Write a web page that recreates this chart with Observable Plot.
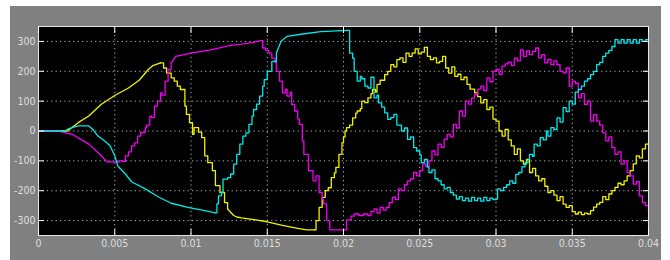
<!DOCTYPE html>
<html>
<head>
<meta charset="utf-8">
<script src="https://cdn.jsdelivr.net/npm/d3@7"></script>
<script src="https://cdn.jsdelivr.net/npm/@observablehq/plot@0.6"></script>
<style>
  html, body { margin: 0; padding: 0; background: #ffffff; }
  #wrap { position: relative; width: 670px; height: 260px; overflow: hidden; }
  #panel { position: absolute; left: 10px; top: 6px; width: 651px; height: 254px; background: #808080; }
  #chart { position: absolute; left: 0; top: 0; }
  #chart svg { display: block; }
</style>
</head>
<body>
<div id="wrap"><div id="panel"></div><div id="chart"></div></div>
<script>
const xTicks = [0, 0.005, 0.01, 0.015, 0.02, 0.025, 0.03, 0.035, 0.04];
const xTickLabels = ["0", "0.005", "0.01", "0.015", "0.02", "0.025", "0.03", "0.035", "0.04"];
const yTicks = [-300, -200, -100, 0, 100, 200, 300];
const yTickLabels = ["-300", "-200", "-100", "0", "100", "200", "300"];

const yellowT = [0,0.0019,0.0026,0.0033,0.0041,0.0050,0.0059,0.0066,0.0072,0.0075,0.0080,0.0082,0.0084,0.0087,0.0089,0.0091,0.0093,0.0096,0.0097,0.0099,0.0101,0.0102,0.0105,0.0107,0.0109,0.0111,0.0114,0.0116,0.0119,0.0122,0.0124,0.0126,0.0128,0.0130,0.0133,0.0140,0.0150,0.0160,0.0170,0.0176,0.0181,0.0182,0.0184,0.0186,0.0188,0.0190,0.0192,0.0194,0.0195,0.0197,0.0199,0.0200,0.0201,0.0202,0.0204,0.0206,0.0208,0.0209,0.0211,0.0212,0.0214,0.0216,0.0218,0.0219,0.0221,0.0222,0.0224,0.0227,0.0229,0.0231,0.0233,0.0235,0.0237,0.0239,0.0241,0.0243,0.0245,0.0247,0.0249,0.0251,0.0253,0.0255,0.0257,0.0259,0.0261,0.0263,0.0265,0.0267,0.0269,0.0271,0.0273,0.0275,0.0277,0.0279,0.0281,0.0283,0.0286,0.0288,0.0290,0.0292,0.0294,0.0296,0.0298,0.0300,0.0302,0.0304,0.0306,0.0308,0.0310,0.0312,0.0314,0.0316,0.0318,0.0320,0.0322,0.0324,0.0326,0.0328,0.0330,0.0332,0.0334,0.0336,0.0338,0.0340,0.0342,0.0344,0.0346,0.0348,0.0350,0.0352,0.0354,0.0356,0.0358,0.0360,0.0362,0.0364,0.0366,0.0368,0.0370,0.0372,0.0374,0.0376,0.0378,0.0380,0.0382,0.0384,0.0386,0.0388,0.0390,0.0392,0.0394,0.0396,0.0398,0.0400];
const yellowV = [0,0,28,50,89,119,144,170,206,219,228,211,194,178,167,150,139,83,56,28,-11,11,-4,-22,-83,-106,-133,-183,-206,-240,-261,-272,-283,-288,-291,-296,-304,-316,-326,-331,-331,-300,-256,-222,-200,-190,-156,-140,-122,-78,-40,-20,0,11,20,44,60,67,75,100,95,111,125,139,130,156,170,189,200,222,215,239,245,230,261,250,261,275,258,264,280,250,239,245,228,233,250,211,194,215,183,190,172,180,156,140,128,115,94,105,72,80,40,33,0,-17,5,-30,-50,-78,-60,-100,-111,-95,-139,-125,-150,-167,-160,-185,-206,-200,-215,-233,-220,-245,-256,-250,-270,-278,-272,-280,-275,-278,-267,-255,-245,-239,-220,-230,-211,-200,-189,-175,-180,-167,-150,-133,-110,-83,-90,-60,-44,-40];

const magentaT = [0,0.0013,0.0022,0.0033,0.0039,0.0045,0.0051,0.0053,0.0055,0.0057,0.0059,0.0061,0.0063,0.0065,0.0067,0.0070,0.0071,0.0073,0.0074,0.0076,0.0078,0.0080,0.0081,0.0083,0.0085,0.0087,0.0090,0.0100,0.0113,0.0126,0.0133,0.0140,0.0146,0.0147,0.0149,0.0151,0.0153,0.0155,0.0156,0.0158,0.0160,0.0162,0.0163,0.0165,0.0166,0.0168,0.0170,0.0171,0.0173,0.0174,0.0177,0.0180,0.0182,0.0184,0.0186,0.0187,0.0189,0.0191,0.0201,0.0202,0.0205,0.0207,0.0210,0.0213,0.0216,0.0218,0.0220,0.0222,0.0224,0.0226,0.0228,0.0230,0.0232,0.0234,0.0236,0.0238,0.0240,0.0242,0.0244,0.0246,0.0248,0.0250,0.0252,0.0254,0.0256,0.0258,0.0260,0.0262,0.0264,0.0266,0.0268,0.0270,0.0272,0.0274,0.0276,0.0278,0.0280,0.0282,0.0284,0.0286,0.0288,0.0290,0.0292,0.0294,0.0296,0.0298,0.0300,0.0302,0.0304,0.0306,0.0308,0.0310,0.0312,0.0314,0.0316,0.0318,0.0320,0.0322,0.0324,0.0326,0.0328,0.0330,0.0332,0.0334,0.0336,0.0338,0.0340,0.0342,0.0344,0.0346,0.0348,0.0350,0.0352,0.0354,0.0356,0.0358,0.0360,0.0362,0.0364,0.0366,0.0368,0.0370,0.0372,0.0374,0.0376,0.0378,0.0380,0.0382,0.0384,0.0386,0.0388,0.0390,0.0392,0.0394,0.0396,0.0398,0.0400];
const magentaV = [0,0,-11,-44,-72,-103,-104,-100,-102,-83,-70,-50,-40,-17,-5,11,20,50,45,83,100,128,120,167,206,228,250,261,272,287,291,296,303,278,270,261,244,230,200,167,128,140,117,130,89,67,40,22,-33,-78,-133,-167,-150,-206,-230,-244,-300,-331,-331,-298,-285,-278,-283,-278,-283,-270,-261,-275,-256,-265,-256,-240,-222,-230,-194,-200,-180,-167,-160,-139,-150,-133,-110,-120,-100,-67,-80,-44,-55,-28,-11,-20,22,10,67,50,100,90,110,122,140,150,135,178,165,200,206,190,217,225,231,220,244,235,272,250,268,256,267,278,245,256,228,240,222,235,222,200,195,211,150,167,160,111,125,89,100,33,55,33,20,-6,-33,-20,-56,-78,-70,-111,-100,-139,-150,-178,-170,-217,-239,-250,-267];

const cyanT = [0,0.0017,0.0020,0.0026,0.0033,0.0036,0.0039,0.0044,0.0047,0.0050,0.0052,0.0057,0.0061,0.0070,0.0079,0.0087,0.0098,0.0109,0.0116,0.0117,0.0118,0.0120,0.0121,0.0124,0.0126,0.0128,0.0130,0.0132,0.0134,0.0136,0.0138,0.0140,0.0141,0.0143,0.0145,0.0147,0.0148,0.0150,0.0153,0.0156,0.0159,0.0163,0.0172,0.0185,0.0203,0.0204,0.0206,0.0207,0.0209,0.0211,0.0212,0.0214,0.0216,0.0218,0.0220,0.0222,0.0223,0.0225,0.0227,0.0229,0.0231,0.0233,0.0235,0.0238,0.0240,0.0242,0.0244,0.0246,0.0248,0.0250,0.0251,0.0253,0.0255,0.0256,0.0258,0.0260,0.0262,0.0264,0.0266,0.0268,0.0270,0.0272,0.0274,0.0276,0.0278,0.0280,0.0282,0.0284,0.0286,0.0288,0.0290,0.0292,0.0294,0.0296,0.0298,0.0300,0.0301,0.0303,0.0305,0.0307,0.0309,0.0311,0.0313,0.0315,0.0317,0.0319,0.0321,0.0322,0.0324,0.0325,0.0327,0.0329,0.0331,0.0333,0.0334,0.0336,0.0338,0.0340,0.0342,0.0344,0.0346,0.0348,0.0350,0.0352,0.0354,0.0356,0.0358,0.0360,0.0362,0.0364,0.0366,0.0368,0.0370,0.0372,0.0374,0.0376,0.0378,0.0380,0.0382,0.0384,0.0386,0.0388,0.0390,0.0392,0.0394,0.0396,0.0398,0.0400];
const cyanV = [0,0,8,17,17,3,-17,-36,-50,-83,-117,-144,-170,-194,-222,-242,-256,-267,-274,-244,-217,-206,-161,-156,-144,-111,-78,-44,-17,-6,22,50,72,90,117,150,172,200,233,261,300,317,324,333,337,261,244,200,167,183,175,150,144,180,111,120,94,80,61,39,45,56,20,0,10,-28,-20,-56,-67,-80,-106,-95,-120,-139,-130,-160,-167,-180,-194,-189,-206,-215,-228,-220,-233,-225,-235,-222,-233,-225,-235,-222,-233,-225,-230,-228,-194,-200,-189,-180,-167,-175,-145,-139,-120,-106,-95,-78,-85,-44,-50,-22,-30,0,-17,11,5,44,30,78,65,100,90,130,139,150,167,175,189,200,222,230,250,261,270,283,306,294,306,294,306,294,306,294,306,300,306,300];

// time spans where each trace varies smoothly (drawn without the switching staircase)
const yellowSmooth = [[0, 0.0080], [0.0126, 0.0181]];
const magentaSmooth = [[0, 0.0051], [0.0090, 0.0146]];
const cyanSmooth = [[0, 0.0116], [0.0159, 0.0203]];

function splitSeries(T, V, spans) {
  const inSpan = (t) => spans.some(([a, b]) => t >= a && t <= b);
  const smooth = [], stepped = [];
  let seg = 0, prevState = null;
  for (let i = 0; i < T.length; i++) {
    const s = inSpan(T[i]);
    if (prevState !== null && s !== prevState) {
      seg++;
      (s ? smooth : stepped).push({t: T[i - 1], v: V[i - 1], seg});
    }
    (s ? smooth : stepped).push({t: T[i], v: V[i], seg});
    prevState = s;
  }
  return {smooth, stepped};
}

const gridStyle = {stroke: "#c8c8c8", strokeOpacity: 0.9, strokeDasharray: "1.2,3.2", strokeWidth: 1};

function traceMarks(T, V, spans, color) {
  const {smooth, stepped} = splitSeries(T, V, spans);
  return [
    Plot.line(smooth, {x: "t", y: "v", z: "seg", curve: "linear", stroke: color, strokeWidth: 1.3}),
    Plot.line(stepped, {x: "t", y: "v", z: "seg", curve: "step-after", stroke: color, strokeWidth: 1.3})
  ];
}

const chart = Plot.plot({
  width: 670,
  height: 260,
  marginLeft: 38,
  marginRight: 22,
  marginTop: 26,
  marginBottom: 25,
  style: {background: "transparent", color: "#dedede", fontFamily: "'Liberation Sans Narrow', 'DejaVu Sans Condensed', 'Arial Narrow', sans-serif", fontSize: "10.5px"},
  x: {domain: [0, 0.04]},
  y: {domain: [-350, 350]},
  marks: [
    Plot.frame({fill: "black"}),
    Plot.gridX(xTicks, gridStyle),
    Plot.gridY(yTicks, gridStyle),
    Plot.axisX(xTicks, {anchor: "bottom", tickSize: 0, tickPadding: 4, tickFormat: (d, i) => xTickLabels[i], label: null, fill: "#dedede"}),
    Plot.axisY(yTicks, {anchor: "left", tickSize: 0, tickPadding: 3, tickFormat: (d, i) => yTickLabels[i], label: null, fill: "#dedede"}),
    ...traceMarks(yellowT, yellowV, yellowSmooth, "#f0f000"),
    ...traceMarks(magentaT, magentaV, magentaSmooth, "#f000f0"),
    ...traceMarks(cyanT, cyanV, cyanSmooth, "#00e8e8"),
    Plot.frame({stroke: "#e6e6e6", strokeWidth: 1}),
    Plot.axisX(xTicks, {anchor: "bottom", tickSize: 6, dy: -6, tickFormat: () => "", label: null, stroke: "#ffffff"}),
    Plot.axisX(xTicks, {anchor: "top", tickSize: 6, dy: 6, tickFormat: () => "", label: null, stroke: "#ffffff"}),
    Plot.axisY(yTicks, {anchor: "left", tickSize: 6, dx: 6, tickFormat: () => "", label: null, stroke: "#ffffff"}),
    Plot.axisY(yTicks, {anchor: "right", tickSize: 6, dx: -6, tickFormat: () => "", label: null, stroke: "#ffffff"})
  ]
});
document.getElementById("chart").appendChild(chart);
</script>
</body>
</html>
